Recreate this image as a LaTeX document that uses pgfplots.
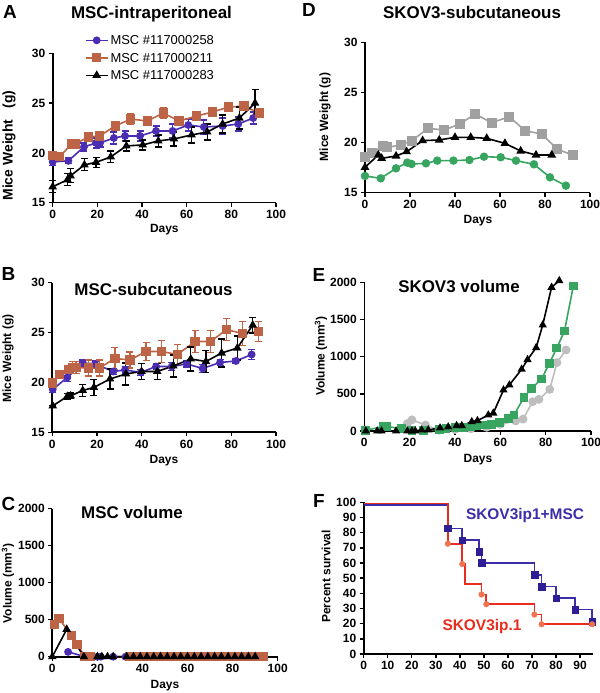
\documentclass[border=0pt]{standalone}
\usepackage{fontspec}
\setmainfont{Liberation Sans}
\usepackage{pgfplots}
\pgfplotsset{compat=1.18}
\newcommand\myfs[1]{\fontsize{#1}{#1}\selectfont}
\definecolor{mblue}{RGB}{75,45,180}
\definecolor{morange}{RGB}{190,100,70}
\definecolor{dgray}{RGB}{160,160,160}
\definecolor{dgreen}{RGB}{55,165,95}
\definecolor{egray}{RGB}{190,190,190}
\definecolor{fblue}{RGB}{60,45,170}
\definecolor{fbluem}{RGB}{45,30,150}
\definecolor{fred}{RGB}{232,45,30}
\definecolor{fredm}{RGB}{240,115,80}
\pgfplotsset{
  gp/.style={scale only axis, axis lines*=left,
    axis line style={line width=1.6bp},
    tick align=outside, major tick length=4bp,
    every tick/.style={line width=1.4bp, black},
    ticklabel style={font=\bfseries\myfs{12}},
    /pgf/number format/assume math mode=true,
    /pgf/number format/1000 sep={},
    clip=false, xmin=0, xmax=100, xtick={0,20,...,100}},
  eb/.style={error bars/.cd, y dir=both, y explicit,
    error bar style={line width=1.2bp},
    error mark options={rotate=90, mark size=3.5bp, line width=1.2bp}},
  sblue/.style={color=mblue, line width=1.6bp, mark=*, mark size=3.1bp, mark options={fill=mblue, draw=mblue}},
  sor/.style={color=morange, line width=1.6bp, mark=square*, mark size=3.8bp, mark options={fill=morange, draw=morange}},
  sblk/.style={color=black, line width=1.6bp, mark=triangle*, mark size=3.4bp, mark options={fill=black}},
}
\begin{document}
\begin{tikzpicture}
\useasboundingbox (0,0) rectangle (600bp,693bp);
% ---------------- A
\begin{axis}[gp, at={(52.7bp,490.3bp)}, anchor=south west, width=223.3bp, height=149.4bp,
  ymin=15, ymax=30, ytick={15,20,25,30},
  legend style={draw=none, fill=none, at={(axis description cs:0.13,1.15)}, anchor=north west,
    font=\myfs{13}, row sep=3bp, nodes={text height=9.5bp, text depth=1bp, inner sep=2bp}},
  legend cell align=left,
  legend image code/.code={\draw[mark repeat=2,mark phase=2,#1] plot coordinates {(0bp,0bp)(11bp,0bp)(22bp,0bp)};}]
\addplot[sblue, eb] table[row sep=\\, y error=e]{x y e\\
0 19.1 0.4\\ 7 19.2 0.3\\ 14 20.6 0.4\\ 19.4 21.0 0.5\\ 21.2 21.0 0.4\\ 27.4 21.5 0.6\\ 32.4 21.7 0.5\\ 39.1 21.7 0.5\\
46.3 22.2 0.5\\ 53.7 22.2 0.7\\ 60.7 22.8 0.6\\ 67.7 22.6 0.7\\ 76.1 22.7 0.8\\ 83.1 22.9 0.7\\ 89.8 23.5 0.6\\};
\addlegendentry{MSC \#117000258}
\addplot[sor, eb] table[row sep=\\, y error=e]{x y e\\
0 19.7 0.3\\ 3 19.6 0.3\\ 8.5 20.9 0.4\\ 10 20.9 0.3\\ 16 21.6 0.4\\ 21 21.7 0.4\\ 28 22.7 0.4\\ 35 23.4 0.5\\
42.4 23.2 0.4\\ 49.5 24.0 0.5\\ 56.6 23.2 0.2\\ 64.5 23.7 0.3\\ 71.5 24.1 0.3\\ 78.7 24.6 0.3\\ 85.7 24.7 0.2\\ 92.5 24.0 0.4\\};
\addlegendentry{MSC \#117000211}
\addplot[sblk, eb] table[row sep=\\, y error=e]{x y e\\
0 16.6 0.6\\ 6.6 17.3 0.6\\ 8 17.7 0.7\\ 14.2 18.8 0.6\\ 19.4 19.05 0.5\\ 26 19.6 0.6\\ 33 20.7 0.5\\ 40.3 20.8 0.5\\
47.3 21.2 0.6\\ 54.3 21.4 0.7\\ 62.2 21.8 0.8\\ 69.2 22.1 0.8\\ 76.1 22.9 0.9\\ 83.6 23.5 1.1\\ 90.6 25.0 1.4\\};
\addlegendentry{MSC \#117000283}
\end{axis}
% ---------------- B
\begin{axis}[gp, at={(52.3bp,260.7bp)}, anchor=south west, width=223.7bp, height=149.6bp,
  ymin=15, ymax=30, ytick={15,20,25,30}]
\addplot[sblue, eb] table[row sep=\\, y error=e]{x y e\\
0.2 19.3 0.3\\ 6.7 20.5 0.4\\ 13.6 21.95 0.3\\ 19.1 21.85 0.3\\ 27.3 21.1 0.3\\ 32.5 21.25 0.3\\ 39.5 21.0 0.3\\
46.4 21.6 0.3\\ 53.4 21.6 0.4\\ 60.1 21.85 0.3\\ 67.2 21.4 0.4\\ 75 22.0 0.3\\ 82.1 22.15 0.2\\ 89.1 22.8 0.5\\};
\addplot[sor, eb] table[row sep=\\, y error=e]{x y e\\
0.2 19.95 0.3\\ 3.1 20.8 0.3\\ 7.2 21.3 0.4\\ 9.1 21.5 0.6\\ 10.6 21.5 0.6\\ 16.1 21.45 0.8\\ 21 21.45 0.8\\
28 22.4 1.1\\ 34.7 22.25 0.8\\ 41.9 23.1 0.9\\ 48.9 23.1 1.1\\ 55.9 22.8 1.0\\ 63.8 24.1 1.1\\ 70.8 24.1 1.1\\
77.9 25.3 1.1\\ 85.1 24.9 1.2\\ 92.1 25.1 1.0\\};
\addplot[sblk, eb] table[row sep=\\, y error=e]{x y e\\
0.2 17.65 0\\ 6.7 18.6 0.3\\ 8.2 18.65 0.3\\ 13.6 19.2 0.6\\ 18.6 19.5 0.8\\ 25.8 20.35 1.0\\ 32.9 20.85 1.1\\
39.9 21.1 0.8\\ 46.9 21.1 0.8\\ 54.1 21.65 1.1\\ 61.9 22.35 1.2\\ 68.7 22.1 1.1\\ 75.7 22.95 1.4\\ 82.7 23.45 1.2\\ 89.6 25.75 0.8\\};
\end{axis}
% ---------------- C
\begin{axis}[gp, at={(52.3bp,36.3bp)}, anchor=south west, width=225.4bp, height=148bp,
  ymin=0, ymax=2000, ytick={0,500,1000,1500,2000}]
\addplot[sblue] table[row sep=\\]{x y\\
7 65\\ 14.5 0\\ 20 0\\ 21.5 0\\ 27 0\\ 32.5 0\\ 39 0\\ 46 0\\ 53 0\\ 60 0\\ 67 0\\ 75 0\\ 82 0\\ 89 0\\};
\addplot[sor] table[row sep=\\]{x y\\
0.8 440\\ 3 515\\ 8.5 285\\ 11 170\\ 14.5 0\\ 17 0\\ 34.5 0\\ 38 0\\ 41.5 0\\ 45 0\\ 48.5 0\\ 52 0\\ 55.5 0\\
59 0\\ 62.5 0\\ 66 0\\ 69.5 0\\ 73 0\\ 76.5 0\\ 80 0\\ 83.5 0\\ 87 0\\ 90.5 0\\ 93.5 0\\};
\addplot[sblk] table[row sep=\\]{x y\\
0 0\\ 6.4 370\\ 14 0\\ 20 0\\ 22 0\\ 24.5 0\\ 27 0\\ 33 0\\ 36 0\\ 39 0\\ 42 0\\ 45 0\\ 48 0\\ 51 0\\ 54 0\\
57 0\\ 60 0\\ 63 0\\ 66 0\\ 69 0\\ 72 0\\ 75 0\\ 78 0\\ 81 0\\ 84 0\\ 87 0\\ 90 0\\};
\end{axis}
% ---------------- D
\begin{axis}[gp, at={(365bp,500.3bp)}, anchor=south west, width=225bp, height=150.4bp,
  ymin=15, ymax=30, ytick={15,20,25,30}]
\addplot[color=dgray, line width=1.6bp, mark=square*, mark size=4.2bp, mark options={fill=dgray}] table[row sep=\\]{x y\\
0 18.6\\ 3 18.93\\ 7.9 19.66\\ 9.9 19.52\\ 15.9 19.76\\ 20.7 20.19\\ 28.1 21.42\\ 35.1 21.25\\ 42.2 21.85\\
48.9 22.85\\ 56.3 21.98\\ 64.1 22.58\\ 71.1 21.19\\ 78.5 20.85\\ 85.5 19.33\\ 92.3 18.76\\};
\addplot[color=black, line width=1.6bp, mark=triangle*, mark size=3.5bp, mark options={fill=black}] table[row sep=\\]{x y\\
0 17.53\\ 5.9 18.76\\ 7.4 18.43\\ 13.8 18.66\\ 18.5 19.09\\ 25.6 20.19\\ 33 20.26\\ 40 20.52\\ 47 20.52\\
54.1 20.42\\ 62.2 19.92\\ 69.2 19.16\\ 76 18.76\\ 83 18.76\\};
\addplot[color=dgreen, line width=1.6bp, mark=*, mark size=3.4bp, mark options={fill=dgreen}] table[row sep=\\]{x y\\
0 16.67\\ 7 16.43\\ 13.8 17.43\\ 18.8 18.0\\ 20.7 17.86\\ 27.1 17.93\\ 32.1 18.2\\ 39.3 18.2\\ 46.4 18.26\\
52.9 18.59\\ 60.3 18.53\\ 67.1 18.2\\ 75.1 17.83\\ 82.2 16.53\\ 89.3 15.7\\};
\end{axis}
% ---------------- E
\begin{axis}[gp, at={(364.3bp,262bp)}, anchor=south west, width=226.7bp, height=148.7bp,
  ymin=0, ymax=2000, ytick={0,500,1000,1500,2000}]
\addplot[color=egray, line width=1.6bp, mark=*, mark size=3.6bp, mark options={fill=egray}] table[row sep=\\]{x y\\
19 100\\ 21 150\\ 27 80\\ 33 10\\ 40 20\\ 47 30\\ 54 50\\ 60 90\\ 66.8 135\\ 70 160\\ 74.3 395\\ 77 425\\
81.8 560\\ 85 920\\ 89 1090\\};
\addplot[color=dgreen, line width=1.6bp, mark=square*, mark size=3.6bp, mark options={fill=dgreen}] table[row sep=\\]{x y\\
0.6 10\\ 8.4 60\\ 10 60\\ 16.5 30\\ 21 10\\ 26 5\\ 33 25\\ 36 30\\ 40 45\\ 43.5 50\\ 47 55\\ 49.6 67\\
52.8 81\\ 56.2 90\\ 59.6 110\\ 63.5 165\\ 66 215\\ 70.4 450\\ 73.8 575\\ 78.2 700\\ 81.6 910\\ 84.9 1115\\
88.3 1345\\ 92.2 1950\\};
\addplot[color=black, line width=1.6bp, mark=triangle*, mark size=3.2bp, mark options={fill=black}] table[row sep=\\]{x y\\
0.7 0\\ 5.7 0\\ 7.6 0\\ 14 0\\ 19 0\\ 21 0\\ 22.5 0\\ 25.3 13\\ 28.2 15\\ 33.4 40\\ 37 54\\ 40.7 72\\ 43 72\\
47.4 125\\ 49.9 139\\ 54.7 215\\ 56.9 240\\ 61.4 551\\ 64 619\\ 69.4 830\\ 72 960\\ 75.8 1120\\ 78.7 1426\\
82.6 1932\\ 86 2022\\};
\end{axis}
% ---------------- F
\begin{axis}[gp, at={(363.7bp,39bp)}, anchor=south west, width=229.6bp, height=151.7bp,
  xmin=0, xmax=95.5, xtick={0,10,...,90}, ymin=0, ymax=100, ytick={0,10,...,100}]
\addplot[color=fblue, line width=1.7bp] table[row sep=\\]{x y\\
0 98\\ 35 98\\ 35 82.8\\ 41 82.8\\ 41 75.1\\ 48 75.1\\ 48 67.4\\ 49 67.4\\ 49 60\\ 71 60\\ 71 52.1\\ 74 52.1\\
74 44.4\\ 80 44.4\\ 80 36.9\\ 88 36.9\\ 88 29.3\\ 95 29.3\\ 95 21.1\\};
\addplot[color=fred, line width=1.7bp] table[row sep=\\]{x y\\
0 99.3\\ 35 99.3\\ 35 72.7\\ 41 72.7\\ 41 59.3\\ 42 59.3\\ 42 46.1\\ 49 46.1\\ 49 39.2\\ 51 39.2\\ 51 32.8\\
71 32.8\\ 71 26\\ 74 26\\ 74 19.6\\ 95 19.6\\};
\addplot[only marks, mark=square*, mark size=3.3bp, color=fbluem, mark options={fill=fbluem}] table[row sep=\\]{x y\\
35 82.8\\ 41 75.1\\ 48 67.4\\ 49 60\\ 71 52.1\\ 74 44.4\\ 80 36.9\\ 88 29.3\\ 95 21.1\\};
\addplot[only marks, mark=*, mark size=2.8bp, color=fredm, mark options={fill=fredm}] table[row sep=\\]{x y\\
35 72.7\\ 41 59.3\\ 49 39.2\\ 51 32.8\\ 71 26\\ 74 19.6\\ 95 19.6\\};
\end{axis}
% ---------------- texts
\begin{scope}[every node/.style={inner sep=0pt}]
\node[font=\bfseries\myfs{19}] at (10bp,681.5bp) {A};
\node[font=\bfseries\myfs{17}, anchor=base] at (151.5bp,674.7bp) {MSC-intraperitoneal};
\node[font=\bfseries\myfs{14}, rotate=90] at (9bp,547.5bp) {Mice Weight\hspace{0.8em}(g)};
\node[font=\bfseries\myfs{12}] at (164.3bp,463bp) {Days};
\node[font=\bfseries\myfs{19}] at (309bp,683.5bp) {D};
\node[font=\bfseries\myfs{17}, anchor=base] at (472bp,674.7bp) {SKOV3-subcutaneous};
\node[font=\bfseries\myfs{12}, rotate=90] at (325bp,576bp) {Mice Weight (g)};
\node[font=\bfseries\myfs{12}] at (478bp,472.5bp) {Days};
\node[font=\bfseries\myfs{19}] at (8.5bp,419bp) {B};
\node[font=\bfseries\myfs{17}, anchor=base] at (153.5bp,397bp) {MSC-subcutaneous};
\node[font=\bfseries\myfs{12}, rotate=90] at (8bp,334.5bp) {Mice Weight (g)};
\node[font=\bfseries\myfs{12}] at (164bp,232bp) {Days};
\node[font=\bfseries\myfs{19}] at (319bp,418.5bp) {E};
\node[font=\bfseries\myfs{17}, anchor=base] at (459bp,400.3bp) {SKOV3 volume};
\node[font=\bfseries\myfs{12}, rotate=90] at (321bp,337bp) {Volume (mm\textsuperscript{3})};
\node[font=\bfseries\myfs{12}] at (478bp,233bp) {Days};
\node[font=\bfseries\myfs{19}] at (8.5bp,189.5bp) {C};
\node[font=\bfseries\myfs{17}, anchor=base] at (132bp,174.7bp) {MSC volume};
\node[font=\bfseries\myfs{12}, rotate=90] at (8bp,109.5bp) {Volume (mm\textsuperscript{3})};
\node[font=\bfseries\myfs{12}] at (165bp,7bp) {Days};
\node[font=\bfseries\myfs{19}] at (319bp,192bp) {F};
\node[font=\bfseries\myfs{12}, rotate=90] at (326bp,116.5bp) {Percent survival};
\node[font=\bfseries\myfs{15.5}, anchor=base, text=fblue] at (525bp,173bp) {SKOV3ip1+MSC};
\node[font=\bfseries\myfs{15.5}, anchor=base, text=fred] at (482bp,62.3bp) {SKOV3ip.1};
\end{scope}
\end{tikzpicture}
\end{document}
